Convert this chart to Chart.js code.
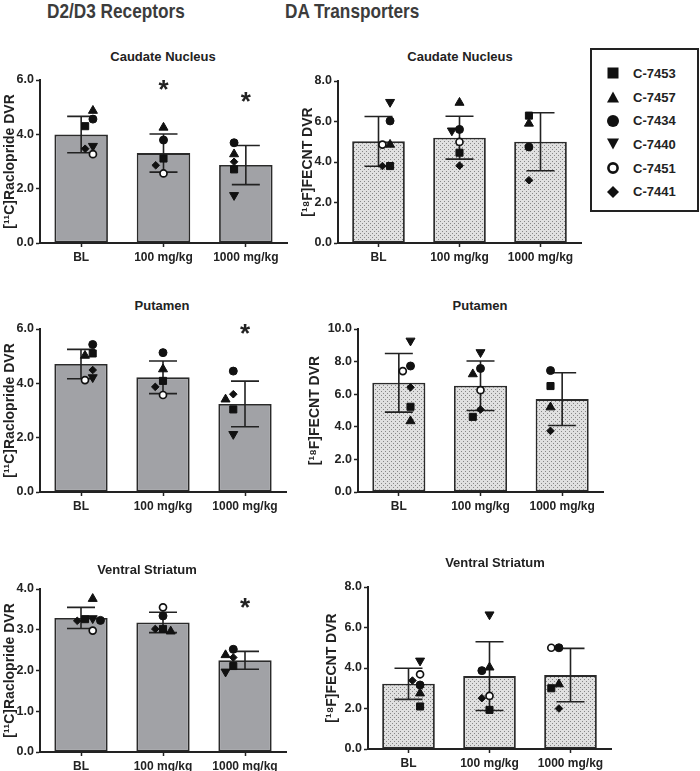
<!DOCTYPE html>
<html>
<head>
<meta charset="utf-8">
<script src="https://cdn.jsdelivr.net/npm/chart.js@4.4.1/dist/chart.umd.min.js"></script>
<style>
  body { margin: 0; background: #fff; }
  #page { position: relative; width: 700px; height: 771px; overflow: hidden; font-family: "Liberation Sans", Arial, sans-serif; }
  canvas { position: absolute; }
  .head { position: absolute; top: -1px; font-family: "Liberation Sans", Arial, sans-serif; font-weight: bold; font-size: 21px; color: #3c3c3c; white-space: nowrap; transform: scaleX(0.82); transform-origin: 0 0; }
  .ptitle { position: absolute; font-weight: bold; font-size: 13px; color: #222; transform: translate(-50%, -50%); white-space: nowrap; }
  #legend { position: absolute; left: 590px; top: 48px; width: 105px; height: 160px; border: 2px solid #222; }
  .row { position: absolute; left: 0; height: 16px; display: flex; align-items: center; font-weight: bold; font-size: 13px; color: #222; }
  .row svg { margin-left: 15px; margin-right: 14px; }
</style>
</head>
<body>
<div id="page">
  <div class="head" style="left:47px">D2/D3 Receptors</div>
  <div class="head" style="left:285px">DA Transporters</div>
  <div id="legend"></div>
</div>
<script>
const categories = ["BL", "100 mg/kg", "1000 mg/kg"];
const subjects = ["C-7453", "C-7457", "C-7434", "C-7440", "C-7451", "C-7441"];

// points: one row per subject (same order as subjects), columns = categories
const d2CaudatePts = [
  [4.30, 3.11, 2.71],
  [4.87, 4.25, 3.27],
  [4.56, 3.79, 3.69],
  [3.57, null, 1.76],
  [3.27, 2.56, null],
  [3.47, 2.86, 2.99]
];
const d2CaudateMean = [3.99, 3.31, 2.87];
const d2CaudateSD = [0.67, 0.70, 0.72];
const d2CaudateStars = [null, 5.9, 5.45];

const datCaudatePts = [
  [3.80, 4.46, 6.29],
  [4.86, 6.93, 5.90],
  [6.03, 5.61, 4.74],
  [6.96, 5.55, null],
  [4.86, 4.99, null],
  [3.80, 3.82, 3.10]
];
const datCaudateMean = [5.02, 5.20, 5.00];
const datCaudateSD = [1.23, 1.06, 1.43];

const d2PutamenPts = [
  [5.10, 4.09, 3.04],
  [5.02, 4.52, 3.41],
  [5.43, 5.13, 4.45],
  [4.22, null, 2.13],
  [4.12, 3.57, null],
  [4.49, 3.87, 3.60]
];
const d2PutamenMean = [4.71, 4.22, 3.24];
const d2PutamenSD = [0.54, 0.60, 0.84];
const d2PutamenStars = [null, null, 6.08];

const datPutamenPts = [
  [5.23, 4.61, 6.50],
  [4.35, 7.23, 5.20],
  [7.73, 7.58, 7.45],
  [9.28, 8.57, null],
  [7.42, 6.25, null],
  [6.42, 5.06, 3.75]
];
const datPutamenMean = [6.70, 6.52, 5.70];
const datPutamenSD = [1.80, 1.52, 1.62];

const d2VentralPts = [
  [3.26, 3.02, 2.11],
  [3.76, 2.96, 2.38],
  [3.23, 3.34, 2.52],
  [3.28, null, 1.97],
  [2.98, 3.55, null],
  [3.22, 3.02, 2.32]
];
const d2VentralMean = [3.29, 3.18, 2.25];
const d2VentralSD = [0.26, 0.25, 0.22];
const d2VentralStars = [null, null, 3.69];

const datVentralPts = [
  [2.10, 1.93, 3.00],
  [2.75, 4.03, 3.20],
  [3.16, 3.87, 5.00],
  [4.36, 6.64, null],
  [3.69, 2.62, 5.00],
  [3.38, 2.51, 2.00]
];
const datVentralMean = [3.22, 3.60, 3.65];
const datVentralSD = [0.77, 1.70, 1.32];

const d2Label = "[\u00B9\u00B9C]Raclopride DVR";
const datLabel = "[\u00B9\u2078F]FECNT DVR";

Chart.defaults.font.family = '"Liberation Sans", Arial, sans-serif';

/* ---------- marker styles per subject ---------- */
const markers = [
  { pointStyle: "rect", radius: 5 },
  { pointStyle: "triangle", radius: 5.2 },
  { pointStyle: "circle", radius: 4 },
  { pointStyle: "triangle", radius: 5.2, rotation: 180 },
  { pointStyle: "circle", radius: 3.5, fill: "#fff", borderWidth: 1.7 },
  { pointStyle: "rectRot", radius: 3.8 }
];

/* ---------- stipple fill for DAT bars ---------- */
function stipple() {
  const c = document.createElement("canvas");
  c.width = 4; c.height = 4;
  const g = c.getContext("2d");
  g.fillStyle = "#e0e0e0"; g.fillRect(0, 0, 4, 4);
  g.fillStyle = "#868686"; g.fillRect(0, 0, 1, 1); g.fillRect(2, 2, 1, 1);
  return g.createPattern(c, "repeat");
}

/* ---------- spread overlapping points sideways ---------- */
function swarm(vals, thr, step) {
  const idx = vals.map((v, i) => i).filter(i => vals[i] != null)
    .sort((a, b) => vals[b] - vals[a]);
  const placed = [];
  const off = [];
  idx.forEach(i => {
    for (const k of [0, -1, 1, -2, 2]) {
      const x = k * step;
      const hit = placed.some(p => Math.abs(p.v - vals[i]) < thr && Math.abs(p.x - x) < step * 0.6);
      if (!hit) { off[i] = x; placed.push({ v: vals[i], x }); break; }
    }
  });
  return off;
}

/* ---------- plugins ---------- */
const errBars = {
  id: "errbars",
  afterDatasetDraw(chart, args, opts) {
    if (args.index !== 0) return;
    const { ctx, scales: { x, y } } = chart;
    ctx.save();
    ctx.strokeStyle = "#222";
    ctx.lineWidth = 1.6;
    opts.mean.forEach((m, i) => {
      const px = x.getPixelForValue(i);
      const hi = y.getPixelForValue(m + opts.sd[i]);
      const lo = y.getPixelForValue(m - opts.sd[i]);
      ctx.beginPath();
      ctx.moveTo(px, hi); ctx.lineTo(px, lo);
      ctx.moveTo(px - 14, hi); ctx.lineTo(px + 14, hi);
      ctx.moveTo(px - 14, lo); ctx.lineTo(px + 14, lo);
      ctx.stroke();
    });
    ctx.restore();
  }
};

const starMarks = {
  id: "stars",
  afterDatasetsDraw(chart, args, opts) {
    if (!opts.values) return;
    const { ctx, scales: { x, y } } = chart;
    ctx.save();
    ctx.fillStyle = "#222";
    ctx.font = 'bold 26px "Liberation Sans", Arial, sans-serif';
    ctx.textAlign = "center";
    ctx.textBaseline = "alphabetic";
    opts.values.forEach((v, i) => {
      if (v == null) return;
      ctx.fillText("*", x.getPixelForValue(i), y.getPixelForValue(v) + 26 * 0.57);
    });
    ctx.restore();
  }
};

/* ---------- one panel ---------- */
function panel(cfg) {
  const padTop = 14, padRight = 8, xH = 30;
  const cLeft = Math.round(cfg.yt - 10.4);
  const cTop = cfg.T - padTop;
  const yW = cfg.L - cLeft;
  const cv = document.createElement("canvas");
  cv.width = cfg.R - cLeft + padRight;
  cv.height = cfg.B - cfg.T + padTop + xH;
  cv.style.left = cLeft + "px";
  cv.style.top = cTop + "px";
  document.getElementById("page").appendChild(cv);

  const t = document.createElement("div");
  t.className = "ptitle";
  t.textContent = cfg.title;
  t.style.left = cfg.tx + "px";
  t.style.top = cfg.ty + "px";
  document.getElementById("page").appendChild(t);

  // horizontal offsets for points, per category
  const offs = categories.map((c, ci) =>
    swarm(cfg.pts.map(r => r[ci]), cfg.max * 0.045, 0.11));

  const scatterSets = subjects.map((s, si) => {
    const m = markers[si];
    const data = [];
    categories.forEach((c, ci) => {
      const v = cfg.pts[si][ci];
      if (v != null) data.push({ x: ci + offs[ci][si], y: v });
    });
    return {
      type: "scatter", label: s, data, xAxisID: "xj", yAxisID: "y", order: 0,
      pointStyle: m.pointStyle, pointRadius: m.radius, pointRotation: m.rotation || 0,
      pointBackgroundColor: m.fill || "#111", pointBorderColor: "#111",
      pointBorderWidth: m.borderWidth || 1, pointHoverRadius: m.radius
    };
  });

  const tickFont = { size: 12.5, weight: "bold" };
  new Chart(cv, {
    type: "bar",
    data: {
      labels: categories,
      datasets: [{
        type: "bar", data: cfg.mean, xAxisID: "x", yAxisID: "y", order: 1,
        backgroundColor: cfg.fill, borderColor: "#2a2a2a", borderWidth: 1.8,
        borderSkipped: false, grouped: false,
        barPercentage: 0.65, categoryPercentage: 1
      }].concat(scatterSets)
    },
    options: {
      responsive: false,
      animation: false,
      layout: { padding: { top: padTop, right: padRight, left: 0, bottom: 0 } },
      plugins: {
        legend: { display: false },
        tooltip: { enabled: false },
        errbars: { mean: cfg.mean, sd: cfg.sd },
        stars: { values: cfg.stars }
      },
      scales: {
        x: {
          type: "category", offset: true,
          grid: { offset: false, drawOnChartArea: false, tickLength: 4, tickColor: "#222", tickWidth: 1.5 },
          border: { color: "#222", width: 2 },
          ticks: { font: { size: 12, weight: "bold" }, color: "#222", padding: 3, maxRotation: 0 },
          afterFit: s => { s.height = xH; }
        },
        xj: { type: "linear", display: false, min: -0.5, max: 2.5 },
        y: {
          min: 0, max: cfg.max,
          ticks: { stepSize: cfg.step, callback: v => v.toFixed(1), font: tickFont, color: "#222", padding: 2 },
          grid: { drawOnChartArea: false, tickLength: 4, tickColor: "#222", tickWidth: 1.5 },
          border: { color: "#222", width: 2 },
          title: { display: true, text: cfg.ytitle, font: { size: 14, weight: "bold" }, color: "#222", padding: { top: 2, bottom: 0 } },
          afterFit: s => { s.width = yW; }
        }
      }
    },
    plugins: [errBars, starMarks]
  });
}

const grey = "#a1a2a6";
const dots = stipple();

panel({ title: "Caudate Nucleus", tx: 163, ty: 56, L: 40, R: 287, T: 80, B: 243, yt: 10,
  max: 6, step: 2, ytitle: d2Label, fill: grey,
  pts: d2CaudatePts, mean: d2CaudateMean, sd: d2CaudateSD, stars: d2CaudateStars });
panel({ title: "Caudate Nucleus", tx: 460, ty: 56, L: 338, R: 581, T: 81, B: 243, yt: 308,
  max: 8, step: 2, ytitle: datLabel, fill: dots,
  pts: datCaudatePts, mean: datCaudateMean, sd: datCaudateSD });
panel({ title: "Putamen", tx: 162, ty: 305, L: 40, R: 286, T: 329, B: 492, yt: 10,
  max: 6, step: 2, ytitle: d2Label, fill: grey,
  pts: d2PutamenPts, mean: d2PutamenMean, sd: d2PutamenSD, stars: d2PutamenStars });
panel({ title: "Putamen", tx: 480, ty: 305, L: 358, R: 603, T: 329, B: 492, yt: 315,
  max: 10, step: 2, ytitle: datLabel, fill: dots,
  pts: datPutamenPts, mean: datPutamenMean, sd: datPutamenSD });
panel({ title: "Ventral Striatum", tx: 147, ty: 569, L: 40, R: 286, T: 589, B: 752, yt: 10,
  max: 4, step: 1, ytitle: d2Label, fill: grey,
  pts: d2VentralPts, mean: d2VentralMean, sd: d2VentralSD, stars: d2VentralStars });
panel({ title: "Ventral Striatum", tx: 495, ty: 562, L: 368, R: 611, T: 587, B: 749, yt: 332,
  max: 8, step: 2, ytitle: datLabel, fill: dots,
  pts: datVentralPts, mean: datVentralMean, sd: datVentralSD });

/* ---------- legend ---------- */
const legendShapes = [
  '<rect x="0.5" y="0.5" width="11" height="11" fill="#111"/>',
  '<polygon points="6,0.5 12,11.5 0,11.5" fill="#111"/>',
  '<circle cx="6" cy="6" r="6" fill="#111"/>',
  '<polygon points="0,0.5 12,0.5 6,11.5" fill="#111"/>',
  '<circle cx="6" cy="6" r="4.6" fill="#fff" stroke="#111" stroke-width="2.6"/>',
  '<polygon points="6,0 12,6 6,12 0,6" fill="#111"/>'
];
const leg = document.getElementById("legend");
subjects.forEach((s, i) => {
  const row = document.createElement("div");
  row.className = "row";
  row.style.top = (23.3 + i * 23.7 - 8) + "px";
  row.innerHTML = '<svg width="12" height="12" viewBox="0 0 12 12">' + legendShapes[i] + "</svg><span>" + s + "</span>";
  leg.appendChild(row);
});
</script>
</body>
</html>
